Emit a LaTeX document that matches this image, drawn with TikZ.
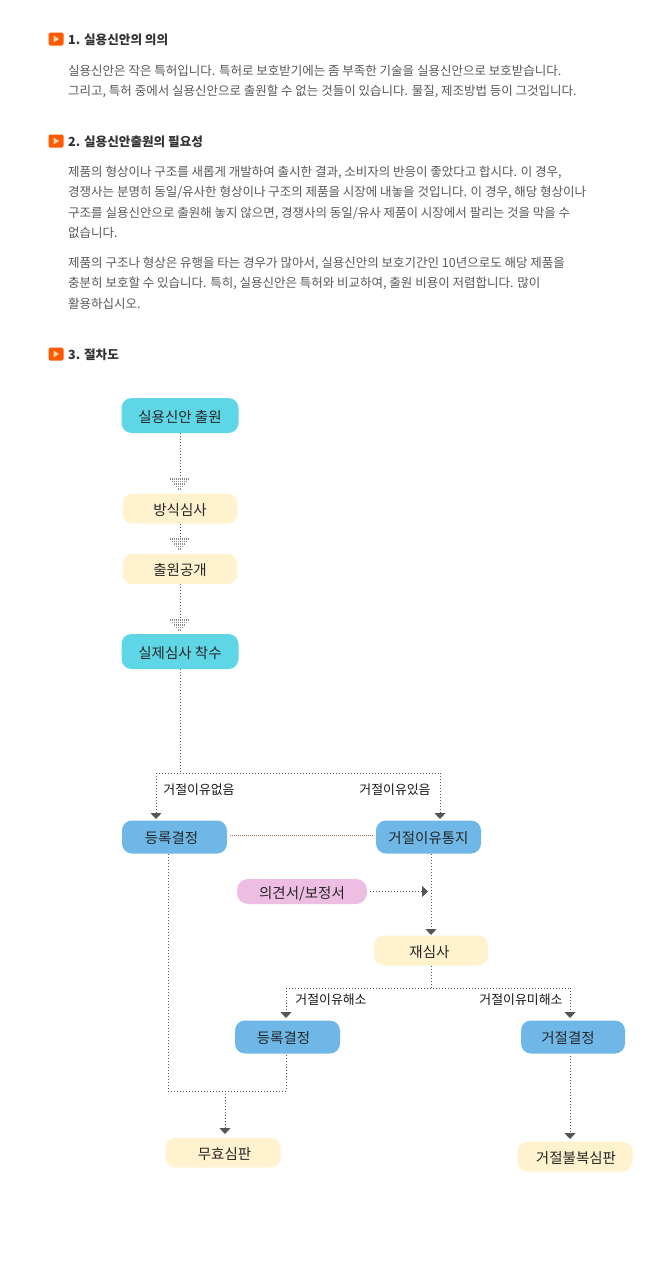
\documentclass[tikz,border=0pt]{standalone}
\usepackage{fontspec}
\setmainfont{Noto Sans CJK KR}
\usetikzlibrary{arrows.meta}
\definecolor{cyanbox}{HTML}{5FD6E6}
\definecolor{creambox}{HTML}{FFF3CF}
\definecolor{bluebox}{HTML}{6FB7E6}
\definecolor{pinkbox}{HTML}{EDBDE3}
\definecolor{dotc}{HTML}{555555}
\definecolor{bulc}{HTML}{FF5A00}
\definecolor{bult}{HTML}{FFD9B0}
\definecolor{reddot}{HTML}{B46E5A}
\tikzset{
  x=1pt,y=-1pt,
  fbox/.style={rounded corners=10pt,minimum height=#1,inner sep=0pt,text height=14pt,text depth=1pt,text=black!85,font=\fontsize{14.5}{15}\selectfont},
  cy/.style={fbox=35pt,fill=cyanbox,minimum width=117pt},
  cr/.style={fbox=30pt,fill=creambox,minimum width=115pt},
  bl/.style={fbox=33pt,fill=bluebox,minimum width=105pt},
  pk/.style={fbox=25pt,fill=pinkbox,minimum width=130pt,rounded corners=11pt},
  lab/.style={yshift=-1pt,font=\fontsize{12.9}{13}\selectfont,text=black!90,inner sep=0pt},
  head/.style={yshift=-1pt,anchor=west,inner sep=0pt,font=\fontsize{12.6}{14}\selectfont\bfseries,text=black!80},
  body/.style={yshift=-1pt,anchor=west,inner sep=0pt,font=\fontsize{12.5}{14}\selectfont,text=black!65},
  dotl/.style={draw=dotc,line width=1pt,dash pattern=on 1pt off 2pt},
  arr/.style={dotl,-{Triangle[width=11pt,length=6pt,color=dotc]}},
  bullet box/.style={fill=bulc,rounded corners=1.5pt,minimum width=15pt,minimum height=13pt,inner sep=0pt},
}
\begin{document}
\begin{tikzpicture}
\useasboundingbox[fill=white] (0,0) rectangle (662,1266);
% headings
\foreach \nm/\yy in {ba/39,bb/141,bc/354}{
  \node[bullet box] (\nm) at (56,\yy) {};
  \fill[bult] (53.5,\yy-3.5) -- (59,\yy) -- (53.5,\yy+3.5) -- cycle;
}
\node[head] (h1) at (68,39) {1. 실용신안의 의의};
\node[head] (h2) at (68,141) {2. 실용신안출원의 필요성};
\node[head] (h3) at (68,354) {3. 절차도};
\node[body] (t1) at (68,70) {실용신안은 작은 특허입니다. 특허로 보호받기에는 좀 부족한 기술을 실용신안으로 보호받습니다.};
\node[body] (t2) at (68,90) {그리고, 특허 중에서 실용신안으로 출원할 수 없는 것들이 있습니다. 물질, 제조방법 등이 그것입니다.};
\node[body] (t3) at (68,171) {제품의 형상이나 구조를 새롭게 개발하여 출시한 결과, 소비자의 반응이 좋았다고 합시다. 이 경우,};
\node[body] (t4) at (68,191) {경쟁사는 분명히 동일/유사한 형상이나 구조의 제품을 시장에 내놓을 것입니다. 이 경우, 해당 형상이나};
\node[body] (t5) at (68,212) {구조를 실용신안으로 출원해 놓지 않으면, 경쟁사의 동일/유사 제품이 시장에서 팔리는 것을 막을 수};
\node[body] (t6) at (68,232) {없습니다.};
\node[body] (t7) at (68,262) {제품의 구조나 형상은 유행을 타는 경우가 많아서, 실용신안의 보호기간인 10년으로도 해당 제품을};
\node[body] (t8) at (68,282) {충분히 보호할 수 있습니다. 특히, 실용신안은 특허와 비교하여, 출원 비용이 저렴합니다. 많이};
\node[body] (t9) at (68,303) {활용하십시오.};
% boxes
\node[cy] (a) at (180,415.5) {실용신안 출원};
\node[cr] (b) at (180,508.5) {방식심사};
\node[cr] (c) at (180,569) {출원공개};
\node[cy] (d) at (180,651.5) {실제심사 착수};
\node[bl] (e) at (174.5,837) {등록결정\kern6pt};
\node[bl] (f) at (428.5,837) {거절이유통지};
\node[pk] (g) at (302,891.5) {의견서/보정서};
\node[cr,minimum width=114pt] (h) at (431,950.5) {재심사\kern3pt};
\node[bl] (i) at (287.5,1037) {등록결정\kern8pt};
\node[bl,minimum width=104pt] (j) at (573,1037) {거절결정\kern10pt};
\node[cr] (k) at (223,1152.5) {\kern3pt 무효심판};
\node[cr] (l) at (575,1156.5) {\kern2pt 거절불복심판};
% coordinates
\coordinate (ah1) at (180,479);
\coordinate (ah2) at (180,539);
\coordinate (ah3) at (180,620);
\coordinate (jn1) at (180,773);
\coordinate (el) at (156,773);
\coordinate (er) at (440,773);
\coordinate (et) at (156,819);
\coordinate (ft) at (440,819);
\coordinate (fs) at (431,854);
\coordinate (gs) at (370,891.5);
\coordinate (gh) at (428,891.5);
\coordinate (ht) at (431,935);
\coordinate (jn2) at (431,988);
\coordinate (il) at (286,988);
\coordinate (ir) at (570,988);
\coordinate (it) at (286,1018);
\coordinate (jt) at (570,1018);
\coordinate (es) at (168,854);
\coordinate (is) at (286,1054);
\coordinate (js) at (570,1056);
\coordinate (jn3) at (168,1091);
\coordinate (jn4) at (286,1091);
\coordinate (jn5) at (225,1091);
\coordinate (kt) at (225,1134);
\coordinate (lt) at (570,1139);
\coordinate (rl) at (230,835);
\coordinate (rr) at (373,835);
% dotted stems and fans
\foreach \p/\s in {a/ah1,b/ah2,c/ah3}{
  \draw[dotl] (\p.south) -- (\s);
}
\foreach \p in {ah1,ah2,ah3}{
  \foreach \r/\w in {0/10,2.5/8,5/6,7.5/4,10/2}{
    \draw[draw=dotc!70,line width=1.4pt,dash pattern=on 1pt off 1pt] ([xshift=-\w pt,yshift=-\r pt]\p) -- ([xshift=\w pt,yshift=-\r pt]\p);
  }
}
\draw[dotl] (d.south) -- (jn1);
\draw[dotl] (el) -- (er);
\draw[arr] (el) -- (et);
\draw[arr] (er) -- (ft);
\draw[draw=reddot,line width=1pt,dash pattern=on 1pt off 1pt] (rl) -- (rr);
\draw[arr] (gs) -- (gh);
\draw[arr] (fs) -- (ht);
\draw[dotl] (h.south) -- (jn2);
\draw[dotl] (il) -- (ir);
\draw[arr] (il) -- (it);
\draw[arr] (ir) -- (jt);
\draw[dotl] (es) -- (jn3) -- (jn4) -- (is);
\draw[arr] (jn5) -- (kt);
\draw[arr] (js) -- (lt);
% labels
\node[lab] (l1) at (199,789) {거절이유없음};
\node[lab] (l2) at (395,789) {거절이유있음};
\node[lab] (l3) at (331,998.5) {거절이유해소};
\node[lab] (l4) at (521,998.5) {거절이유미해소};
\end{tikzpicture}
\end{document}
